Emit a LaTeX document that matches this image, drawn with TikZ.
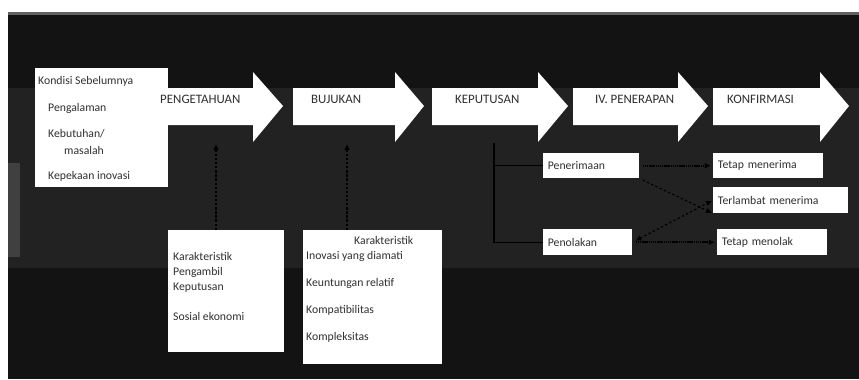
\documentclass[tikz,border=0pt]{standalone}
\usepackage{fontspec}
\setmainfont{Carlito}
\usetikzlibrary{positioning,calc,arrows.meta}

\definecolor{bgdark}{HTML}{131313}
\definecolor{bgband}{HTML}{222222}
\definecolor{inktext}{HTML}{303030}

\tikzset{
  box/.style={fill=white, draw=none, inner sep=0pt, anchor=north west},
  choice/.style={fill=white, draw=none, anchor=north west, inner xsep=4pt, inner ysep=0pt,
    text width=#1, align=left, text=inktext, font=\fontsize{10}{12}\selectfont},
  item/.style={anchor=west, inner sep=0pt, text=inktext, font=\fontsize{10}{12}\selectfont},
  stagetext/.style={anchor=west, inner sep=0pt, text=inktext, font=\fontsize{11}{13}\selectfont},
  link/.style={black, line width=1pt},
  uplink/.style={black, line width=1.2pt, dash pattern=on 2pt off 1.5pt, -{Latex[length=5pt,width=5pt]}},
  denselink/.style={black, line width=1.5pt, dash pattern=on 1pt off 0.6pt, -{Latex[length=5pt,width=5pt]},
    shorten <=3pt, shorten >=2pt},
  dashlink/.style={black, line width=1pt, dash pattern=on 2pt off 2pt, shorten <=3pt, shorten >=1pt}
}

\begin{document}
\begin{tikzpicture}[x=0.03cm, y=-0.03cm]
    \useasboundingbox (0,0) rectangle (859,379);
    %Background%
    %===========================================================
    \fill[white] (0,0) rectangle (859,379);
    \fill[bgdark] (8,12) rectangle (859,379);
    \fill[bgband] (8,88) rectangle (859,268);
    \fill[black!62] (8,12) rectangle (859,15); % top edge
    \fill[black!75] (8,163) rectangle (20,257); % strip on the left
    %Prior conditions (under the first arrow)%
    \node[box, minimum width=3.99cm, minimum height=3.57cm] (kondisi) at (35,68) {};
    %Stage arrows%
    %===========================================================
    \def \BodyTop {88}; \def \BodyBot {125};
    \def \HeadTop {72}; \def \HeadBot {142}; \def \TipY {106};
    \foreach \xa/\xb/\xt/\xl/\name/\txt in {155/253/283/160/pengetahuan/PENGETAHUAN,
        293/395/424/311/bujukan/BUJUKAN,
        432/538/568/455/keputusan/KEPUTUSAN,
        573/678/708/595/penerapan/IV. PENERAPAN,
        713/820/849/727/konfirmasi/KONFIRMASI}{
        \fill[white] (\xa,\BodyTop) -- (\xb,\BodyTop) -- (\xb,\HeadTop) -- (\xt,\TipY)
            -- (\xb,\HeadBot) -- (\xb,\BodyBot) -- (\xa,\BodyBot) -- cycle;
        \node[stagetext] (\name) at (\xl,99) {\txt};
    }
    \node[item] at (38,81) {Kondisi Sebelumnya};
    \node[item] at (48,108) {Pengalaman};
    \node[item] at (48,134) {Kebutuhan/};
    \node[item] at (64,150) {masalah};
    \node[item] at (48,176) {Kepekaan inovasi};
    %Characteristics boxes%
    \node[box, minimum width=3.48cm, minimum height=3.66cm] (pengambil) at (168,230) {};
    \node[item] at (173,256) {Karakteristik};
    \node[item] at (173,272) {Pengambil};
    \node[item] at (173,288) {Keputusan};
    \node[item] at (173,316) {Sosial ekonomi};
    \node[box, minimum width=4.17cm, minimum height=4.02cm] (inovasi) at (303,230) {};
    \node[item] at (354,240) {Karakteristik};
    \node[item] at (306,256) {Inovasi yang diamati};
    \node[item] at (306,283) {Keuntungan relatif};
    \node[item] at (306,310) {Kompatibilitas};
    \node[item] at (306,337) {Kompleksitas};
    \coordinate (upA) at (216,144);
    \coordinate (upB) at (347,144);
    \draw[uplink] (pengambil.north -| upA) -- (upA);
    \draw[uplink] (inovasi.north -| upB) -- (upB);
    %Decision outcomes%
    \node[choice={2.88cm-8pt}, minimum height=0.75cm] (penerimaan) at (543,153) {Penerimaan};
    \node[choice={2.67cm-8pt}, minimum height=0.78cm] (penolakan) at (543,229) {Penolakan};
    \node[choice={3.3cm-8pt}, minimum height=0.75cm] (terima) at (713,153) {Tetap menerima};
    \node[choice={4.05cm-8pt}, minimum height=0.78cm] (terlambat) at (713,187) {Terlambat menerima};
    \node[choice={3.3cm-8pt}, minimum height=0.78cm] (tolak) at (717,229) {Tetap menolak};
    \coordinate (branch) at (494,143);
    \draw[link] (branch) |- (penerimaan.west);
    \draw[link] (branch) |- (penolakan.west);
    \draw[denselink] (penerimaan.east) -- (terima.west);
    \draw[denselink] (penolakan.east) -- (tolak.west);
    \draw[dashlink, -{Latex[length=5pt,width=5pt]}] (penerimaan.south east) -- (terlambat.south west);
    \draw[dashlink, {Latex[length=5pt,width=5pt]}-{Latex[length=5pt,width=5pt]}] (penolakan.east) -- (terlambat.west);
\end{tikzpicture}
\end{document}
